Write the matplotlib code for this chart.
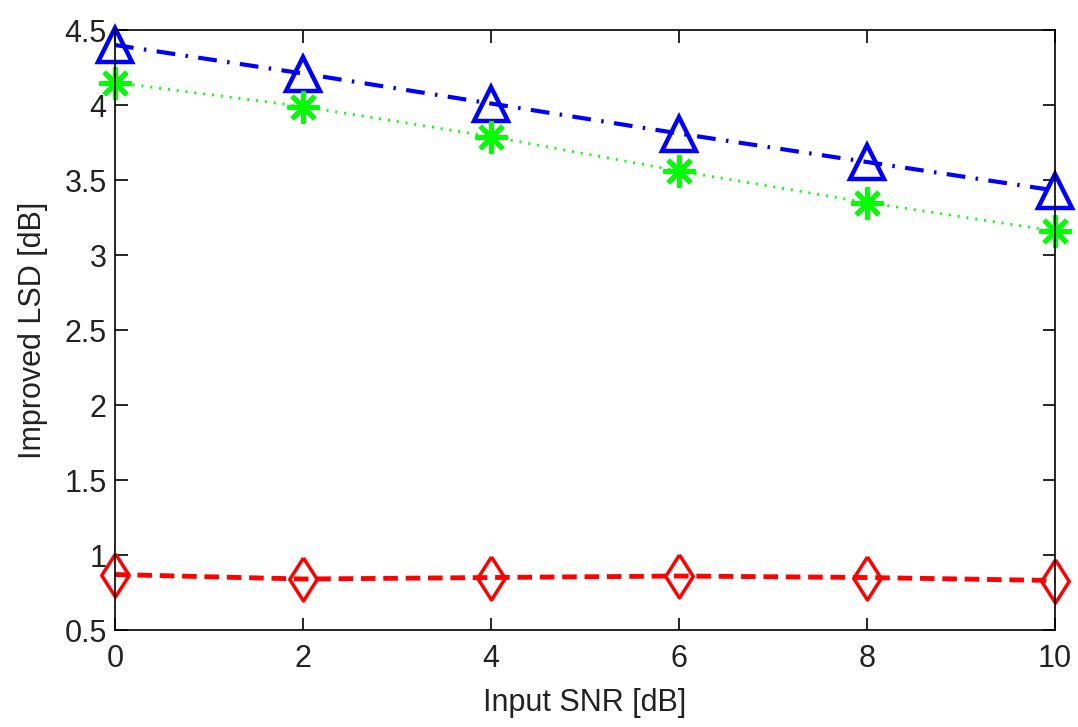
import matplotlib
matplotlib.use("Agg")
import matplotlib.pyplot as plt
import numpy as np

# improved LSD versus input SNR for three methods
snr = [0, 2, 4, 6, 8, 10]
lsd_blue = [4.40, 4.21, 4.01, 3.81, 3.62, 3.43]
lsd_green = [4.15, 3.99, 3.79, 3.56, 3.35, 3.16]
lsd_red = [0.87, 0.84, 0.85, 0.86, 0.85, 0.83]

yticks = [0.5, 1, 1.5, 2, 2.5, 3, 3.5, 4, 4.5]
ytick_labels = ['0.5', '1', '1.5', '2', '2.5', '3', '3.5', '4', '4.5']
xticks = [0, 2, 4, 6, 8, 10]

plt.rcParams['font.family'] = ['Liberation Sans', 'DejaVu Sans']

# tall narrow diamond
diamond = [(0, 1), (0.64, 0), (0, -1), (-0.64, 0), (0, 1)]

fig = plt.figure(figsize=(10.78, 7.27), dpi=100)
ax = fig.add_axes([0.1067, 0.1334, 0.872, 0.8253])

ax.plot(snr, lsd_blue, color='#0000ff', linestyle=(0, (4.5, 2.5, 0.6, 2.5)), lw=3,
        marker='^', ms=24, mfc='none', mec='#0000ff', mew=3.2, clip_on=False)
ax.plot(snr, lsd_green, color='#00ff00', linestyle=(0, (0.7, 2.5)), lw=2,
        marker=(8, 2, 0), ms=23, mec='#00ff00', mew=3.5, clip_on=False)
ax.plot(snr, lsd_red, color='#ff0000', linestyle=(0, (3, 1.6)), lw=3.5,
        marker=diamond, ms=31, mfc='none', mec='#ff0000', mew=2.5, clip_on=False)

ax.set_xlim(0, 10)
ax.set_ylim(0.5, 4.5)
ax.set_xticks(xticks)
ax.set_xticklabels([str(v) for v in xticks])
ax.set_yticks(yticks)
ax.set_yticklabels(ytick_labels)
ax.tick_params(direction='in', length=9, width=1.2, top=True, right=True,
               labelsize=22, labelcolor='#222222')
ax.tick_params(axis='x', pad=10)
ax.tick_params(axis='y', pad=6)
for s in ax.spines.values():
    s.set_linewidth(1.2)

ax.set_xlabel('Input SNR [dB]', fontsize=22, color='#222222', labelpad=10)
ax.set_ylabel('Improved LSD [dB]', fontsize=22, color='#222222', labelpad=12)

fig.savefig('out.png', dpi=100)
